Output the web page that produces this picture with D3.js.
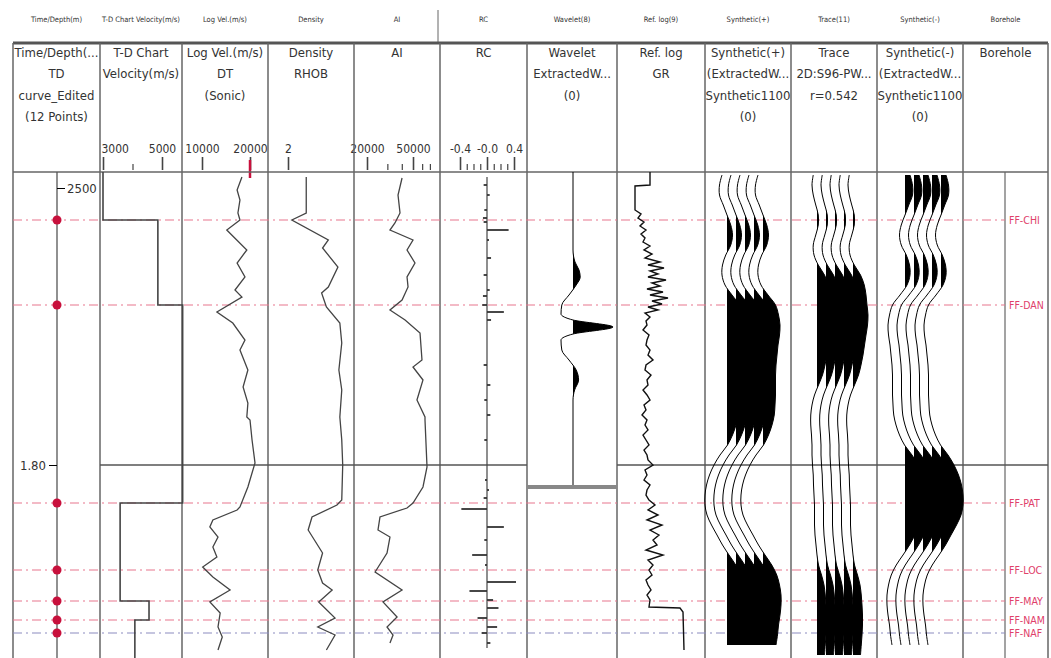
<!DOCTYPE html>
<html>
<head>
<meta charset="utf-8">
<script src="https://cdnjs.cloudflare.com/ajax/libs/d3/7.8.5/d3.min.js"></script>
<style>
body{margin:0;background:#fff;}
svg text{font-family:"Liberation Sans Narrow","Arial Narrow","DejaVu Sans Condensed",sans-serif;fill:#333;}
</style>
</head>
<body>
<script>
var fontFam = '"Liberation Sans Narrow","Arial Narrow","DejaVu Sans Condensed",sans-serif';

// ---- data ----
var tabLabels = ['Time/Depth(m)','T-D Chart Velocity(m/s)','Log Vel.(m/s)','Density','AI','RC','Wavelet(8)','Ref. log(9)','Synthetic(+)','Trace(11)','Synthetic(-)','Borehole'];
var trackTitles = [
  ['Time/Depth(...','TD','curve_Edited','(12 Points)'],
  ['T-D Chart','Velocity(m/s)'],
  ['Log Vel.(m/s)','DT','(Sonic)'],
  ['Density','RHOB'],
  ['AI'],
  ['RC'],
  ['Wavelet','ExtractedW...','(0)'],
  ['Ref. log','GR'],
  ['Synthetic(+)','(ExtractedW...','Synthetic1100','(0)'],
  ['Trace','2D:S96-PW...','r=0.542'],
  ['Synthetic(-)','(ExtractedW...','Synthetic1100','(0)'],
  ['Borehole']
];

var topNames = ['FF-CHI','FF-DAN','FF-PAT','FF-LOC','FF-MAY','FF-NAM','FF-NAF'];
var topTimes = [1555,1640,1838,1905,1936,1955,1968];

var timeTicks = [1800], timeTickLabels = ['1.80'];
var depthTickTimes = [1523], depthTickLabels = ['2500'];

var tdTimes = [1507,1555,1640,1838,1936,1955,1995];
var tdVel = [3000,4860,5700,3580,4560,4080,4080];

var velTimes = [1512,1525,1535,1548,1555,1565,1585,1598,1612,1625,1632,1647,1658,1675,1685,1705,1722,1738,1752,1755,1775,1798,1822,1842,1845,1855,1862,1872,1882,1892,1902,1912,1925,1937,1948,1962,1972,1985];
var velValues = [17800,16600,17300,16800,17300,14300,19100,16600,18600,16100,17800,12400,15600,18600,17300,19400,18100,19400,19100,20000,20600,21500,19400,17300,16600,11700,11200,12600,11700,12400,10100,11700,15000,11200,13000,12600,13400,12600];

var rhobTimes = [1512,1548,1555,1575,1583,1602,1622,1628,1642,1658,1678,1705,1725,1752,1775,1800,1835,1840,1852,1865,1888,1905,1918,1925,1937,1953,1962,1970,1985];
var rhobValues = [2.19,2.19,2.04,2.42,2.36,2.52,2.42,2.35,2.40,2.54,2.56,2.53,2.56,2.54,2.56,2.57,2.56,2.51,2.25,2.21,2.36,2.31,2.36,2.46,2.32,2.49,2.31,2.49,2.40];

var aiTimes = [1513,1530,1548,1558,1565,1575,1585,1598,1612,1622,1635,1645,1655,1668,1695,1702,1715,1735,1752,1755,1802,1822,1838,1843,1852,1865,1872,1888,1907,1925,1937,1952,1962,1970,1978];
var aiValues = [40200,37100,38600,34900,31600,50000,44400,52000,44400,45300,40200,31600,42700,57500,59800,50000,61000,54100,63500,63500,66100,61000,50000,44400,25900,24900,31600,29800,23500,40200,27500,36400,29800,33600,31600];

var rcTimes = [1520,1530,1545,1553,1557,1565,1575,1593,1610,1625,1631,1640,1647,1655,1700,1720,1735,1750,1775,1815,1825,1833,1844,1862,1875,1890,1900,1917,1926,1935,1943,1953,1962,1968,1978];
var rcValues = [-0.05,0.04,-0.04,-0.06,-0.05,0.32,0.03,0.06,-0.05,0.04,-0.06,-0.07,0.25,0.06,-0.05,0.05,-0.04,0.05,-0.04,-0.03,0.03,-0.05,-0.38,0.25,-0.04,-0.22,-0.03,0.43,-0.26,0.09,0.17,-0.14,0.15,-0.08,0.05];

var waveTimes = [1507,1585,1597,1605,1612,1620,1630,1640,1649,1655,1662,1669,1675,1685,1695,1705,1715,1725,1735,1822];
var waveAmps = [0,0,0.05,0.15,0.18,0.08,-0.1,-0.28,-0.3,0,1,0,-0.3,-0.28,-0.1,0.08,0.14,0.04,0,0];

var grTimes = [1507,1520,1521,1545,1549,1553,1557,1561,1565,1569,1573,1577,1581,1585,1589,1593,1597,1600,1603,1606,1609,1612,1615,1618,1621,1624,1627,1630,1633,1636,1639,1642,1645,1648,1652,1656,1660,1665,1670,1675,1680,1685,1690,1695,1700,1705,1710,1715,1720,1725,1730,1735,1740,1745,1750,1755,1760,1765,1770,1775,1780,1785,1790,1795,1800,1805,1810,1815,1820,1825,1830,1835,1840,1845,1850,1855,1860,1865,1870,1875,1880,1885,1890,1895,1900,1905,1910,1915,1920,1925,1930,1935,1942,1943,1947,1985];
var grValues = [66,66,36,36,48,42,54,46,58,48,56,52,66,54,70,56,86,62,94,66,82,62,98,70,86,60,92,66,102,70,90,62,82,56,
  66,58,60,52,64,60,58,66,62,72,58,56,68,60,62,52,60,66,54,58,50,60,56,62,52,58,64,54,60,62,72,56,60,54,66,60,58,64,76,62,82,60,90,66,84,72,80,58,92,62,72,64,70,58,62,68,60,66,64,
  126,132,134];

var synthTimes = [1510,1520,1530,1540,1550,1560,1570,1580,1590,1600,1610,1620,1630,1640,1650,1660,1670,1680,1690,1700,1710,1720,1730,1740,1750,1760,1770,1780,1790,1800,1810,1820,1830,1840,1850,1860,1870,1880,1890,1900,1910,1920,1930,1940,1950,1960,1970,1980];
var synthPos = [-0.2,-0.3,-0.3,-0.15,0,0.15,0.22,0.15,-0.05,-0.18,-0.2,-0.08,0.2,0.5,0.62,0.68,0.66,0.6,0.56,0.52,0.5,0.5,0.5,0.48,0.45,0.36,0.22,0.02,-0.28,-0.52,-0.7,-0.82,-0.88,-0.88,-0.8,-0.62,-0.4,-0.18,0.08,0.35,0.55,0.66,0.72,0.72,0.68,0.62,0.58,0.52];
var synthNeg = synthPos.map(function(v){return -v;}); // reversed polarity

var traceTimes = [1510,1520,1530,1540,1550,1560,1570,1580,1590,1600,1610,1620,1630,1640,1650,1660,1670,1680,1690,1700,1710,1720,1730,1740,1750,1760,1770,1780,1790,1800,1810,1820,1830,1840,1850,1860,1870,1880,1890,1900,1910,1920,1930,1940,1950,1960,1970,1980,1990];
var traceAmps = [-0.15,-0.2,-0.15,-0.05,0.05,0.05,-0.05,-0.15,-0.12,0.05,0.3,0.45,0.52,0.56,0.6,0.58,0.52,0.46,0.4,0.32,0.22,0.06,-0.1,-0.2,-0.25,-0.25,-0.22,-0.2,-0.2,-0.18,-0.15,-0.14,-0.12,-0.1,-0.1,-0.1,-0.08,-0.04,0,0.06,0.18,0.28,0.33,0.36,0.38,0.38,0.36,0.33,0.3];

// ---- layout ----
var W = 1051, H = 658;
var colEdges = [13,100,182,268,354,440,527,617,705,791,877,963,1048];
var headTop = 43, headBot = 172;

var svg = d3.select('body').append('svg').attr('width', W).attr('height', H);
var defs = svg.append('defs');

var y = d3.scaleLinear().domain([1507,1995]).range([172,660]);

var velX = d3.scaleLinear().domain([3000,5000]).range([103,162]);
var logVelX = d3.scaleLog().domain([10000,20000]).range([202,250]);
var rhobX = d3.scaleLinear().domain([2,2.5]).range([288,336]);
var aiX = d3.scaleLog().domain([20000,50000]).range([367,413]);
var rcX = d3.scaleLinear().domain([-0.4,0.4]).range([460,514]);
var waveX = d3.scaleLinear().domain([0,1]).range([0,40]);
var grX = d3.scaleLinear().domain([0,176]).range([617,705]);
var wigX = d3.scaleLinear().domain([-1,1]).range([-25,25]);

// clip for the data area
defs.append('clipPath').attr('id','plot').append('rect')
  .attr('x', colEdges[0]).attr('y', headBot).attr('width', colEdges[12]-colEdges[0]).attr('height', H-headBot);

// ---- tab labels row ----
svg.selectAll('text.tab')
  .data(tabLabels)
  .enter().append('text')
    .attr('class','tab')
    .attr('x', function(d,i){return (colEdges[i]+colEdges[i+1])/2;})
    .attr('y', 22)
    .attr('text-anchor','middle')
    .attr('font-size', 7.5)
    .text(function(d){return d;});
svg.append('line').attr('x1',438).attr('x2',438).attr('y1',10).attr('y2',headTop)
  .attr('stroke','#666').attr('stroke-width',1);

// ---- track titles ----
trackTitles.forEach(function(lines, i){
  var t = svg.append('text')
    .attr('text-anchor','middle')
    .attr('font-size', 13);
  t.selectAll('tspan').data(lines).enter().append('tspan')
    .attr('x', (colEdges[i]+colEdges[i+1])/2)
    .attr('y', function(d,j){return 57 + j*21.4;})
    .text(function(d){return d;});
});

// ---- header scales ----
function headerAxis(scale, major, labels, minor){
  var g = svg.append('g').attr('transform','translate(0,170)')
    .call(d3.axisTop(scale).tickValues(major).tickSize(13).tickPadding(4)
      .tickFormat(function(d,i){return labels[i];}));
  g.select('.domain').remove();
  g.attr('font-family', fontFam).attr('font-size', 12);
  g.selectAll('line').attr('stroke','#444').attr('stroke-width',1.6);
  if (minor) {
    var g2 = svg.append('g').attr('transform','translate(0,170)')
      .call(d3.axisTop(scale).tickValues(minor).tickSize(6).tickFormat(''));
    g2.select('.domain').remove();
    g2.selectAll('line').attr('stroke','#444').attr('stroke-width',1.2);
  }
  return g;
}
var gVel = headerAxis(velX, [3000,5000], ['3000','5000'], [4000]);
gVel.select('.tick text').attr('text-anchor','start').attr('dx',-2);
headerAxis(logVelX, [10000,20000], ['10000','20000']);
headerAxis(rhobX, [2], ['2']);
headerAxis(aiX, [20000,50000], ['20000','50000'], [30000,40000,60000,70000]);
headerAxis(rcX, [-0.4,0,0.4], ['-0.4','-0.0','0.4'], [-0.3,-0.2,-0.1,0.1,0.2,0.3]);
svg.append('line').attr('x1',logVelX(20000)).attr('x2',logVelX(20000)).attr('y1',160).attr('y2',178)
  .attr('stroke','#c8103c').attr('stroke-width',2.5);

// ---- grid/frame ----
svg.append('line').attr('x1',colEdges[0]).attr('x2',colEdges[12]).attr('y1',headTop).attr('y2',headTop)
  .attr('stroke','#555').attr('stroke-width',3);
svg.append('line').attr('x1',colEdges[0]).attr('x2',colEdges[12]).attr('y1',headBot).attr('y2',headBot)
  .attr('stroke','#666').attr('stroke-width',1.5);
svg.selectAll('line.col')
  .data(colEdges)
  .enter().append('line')
    .attr('class','col')
    .attr('x1', function(d){return d;}).attr('x2', function(d){return d;})
    .attr('y1', headTop).attr('y2', H)
    .attr('stroke','#666').attr('stroke-width',1.5);
svg.append('line').attr('x1',1005).attr('x2',1005).attr('y1',headBot).attr('y2',H)
  .attr('stroke','#666').attr('stroke-width',1.2);

// grid line at 1.80 s (all tracks except time/depth and wavelet)
[1,2,3,4,5,7,8,9,10,11].forEach(function(i){
  svg.append('line')
    .attr('x1', colEdges[i]).attr('x2', colEdges[i+1])
    .attr('y1', y(timeTicks[0])).attr('y2', y(timeTicks[0]))
    .attr('stroke','#555').attr('stroke-width',1.3);
});

// ---- formation tops ----
var tops = d3.zip(topNames, topTimes);
svg.selectAll('line.top')
  .data(tops)
  .enter().append('line')
    .attr('class','top')
    .attr('x1', colEdges[0]).attr('x2', 1005)
    .attr('y1', function(d){return y(d[1]);}).attr('y2', function(d){return y(d[1]);})
    .attr('stroke', function(d,i){return i === tops.length-1 ? '#8c8cc0' : '#e8768e';})
    .attr('stroke-width',1.1)
    .attr('stroke-dasharray','9,4,2,4');
svg.append('g').attr('clip-path','url(#plot)')
  .selectAll('text')
  .data(tops)
  .enter().append('text')
    .attr('x', 1009)
    .attr('y', function(d){return y(d[1]);})
    .attr('dy','0.35em')
    .attr('font-size', 10.5)
    .style('fill','#e0406a')
    .text(function(d){return d[0];});

// ---- time / depth track ----
var axisX = 57;
svg.append('line').attr('x1',axisX).attr('x2',axisX).attr('y1',headBot).attr('y2',H)
  .attr('stroke','#555').attr('stroke-width',1.3);
var gT = svg.append('g').attr('transform','translate('+axisX+',0)')
  .call(d3.axisLeft(y).tickValues(timeTicks).tickSize(8).tickPadding(3)
    .tickFormat(function(d,i){return timeTickLabels[i];}));
gT.select('.domain').remove();
gT.attr('font-family', fontFam).attr('font-size', 13);
var gD = svg.append('g').attr('transform','translate('+axisX+',0)')
  .call(d3.axisRight(y).tickValues(depthTickTimes).tickSize(8).tickPadding(2)
    .tickFormat(function(d,i){return depthTickLabels[i];}));
gD.select('.domain').remove();
gD.attr('font-family', fontFam).attr('font-size', 13);
svg.selectAll('circle.td')
  .data(topTimes)
  .enter().append('circle')
    .attr('class','td')
    .attr('cx', axisX).attr('cy', function(d){return y(d);})
    .attr('r', 4.5)
    .attr('fill','#c8103c');

var plot = svg.append('g').attr('clip-path','url(#plot)');

// ---- T-D chart velocity ----
plot.append('path')
  .attr('d', d3.line().x(function(d){return velX(d[1]);}).y(function(d){return y(d[0]);})
    .curve(d3.curveStepBefore)(d3.zip(tdTimes, tdVel)))
  .attr('fill','none').attr('stroke','#444').attr('stroke-width',1.6);

// ---- logs ----
function logCurve(times, vals, sx, col, w){
  plot.append('path')
    .attr('d', d3.line().x(function(d){return sx(d[1]);}).y(function(d){return y(d[0]);})(d3.zip(times, vals)))
    .attr('fill','none').attr('stroke', col).attr('stroke-width', w);
}
logCurve(velTimes, velValues, logVelX, '#444', 1.3);
logCurve(rhobTimes, rhobValues, rhobX, '#444', 1.3);
logCurve(aiTimes, aiValues, aiX, '#444', 1.3);
logCurve(grTimes, grValues, grX, '#111', 1.4);

// ---- RC ----
plot.append('line').attr('x1', rcX(0)).attr('x2', rcX(0)).attr('y1', y(1512)).attr('y2', y(1983))
  .attr('stroke','#444').attr('stroke-width',1.2);
plot.selectAll('line.rc')
  .data(d3.zip(rcTimes, rcValues))
  .enter().append('line')
    .attr('class','rc')
    .attr('x1', rcX(0)).attr('x2', function(d){return rcX(d[1]);})
    .attr('y1', function(d){return y(d[0]);}).attr('y2', function(d){return y(d[0]);})
    .attr('stroke','#333').attr('stroke-width',1.8);

// ---- wiggle helper ----
function wiggle(times, amps, base, ax, id, curve){
  var pts = d3.zip(times, amps);
  defs.append('clipPath').attr('id', id).append('rect')
    .attr('x', base).attr('y', headBot).attr('width', 90).attr('height', H-headBot);
  var xf = function(d){return base + ax(d[1]);};
  var yf = function(d){return y(d[0]);};
  plot.append('path')
    .attr('d', d3.area().x0(base).x1(xf).y(yf).curve(curve)(pts))
    .attr('fill','#000').attr('clip-path','url(#'+id+')');
  plot.append('path')
    .attr('d', d3.line().x(xf).y(yf).curve(curve)(pts))
    .attr('fill','none').attr('stroke','#000').attr('stroke-width',1);
}

// wavelet
var waveBase = 573;
wiggle(waveTimes, waveAmps, waveBase, waveX, 'wv', d3.curveMonotoneY);
svg.append('line').attr('x1', colEdges[6]).attr('x2', colEdges[7])
  .attr('y1', y(waveTimes[waveTimes.length-1])).attr('y2', y(waveTimes[waveTimes.length-1]))
  .attr('stroke','#888').attr('stroke-width',4);

// synthetic(+), trace, synthetic(-): five repeated traces each
var smooth = d3.curveCatmullRom.alpha(0.5);
d3.range(5).forEach(function(i){
  wiggle(synthTimes, synthPos, colEdges[8] + 22 + i*9, wigX, 'sp'+i, smooth);
  wiggle(traceTimes, traceAmps, colEdges[9] + 26 + i*9, wigX, 'tr'+i, smooth);
  wiggle(synthTimes, synthNeg, colEdges[10] + 28 + i*9, wigX, 'sn'+i, smooth);
});
</script>
</body>
</html>
